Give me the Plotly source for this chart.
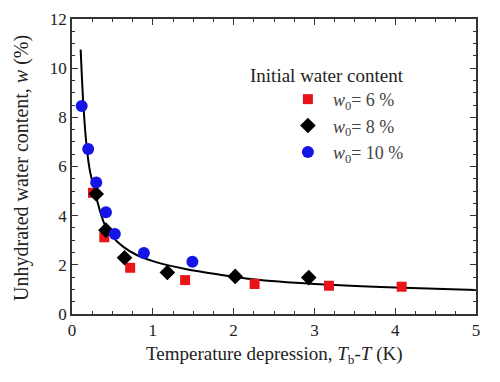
import plotly.graph_objects as go

# data
x6 = [0.26, 0.40, 0.72, 1.40, 2.26, 3.18, 4.08]
y6 = [4.93, 3.12, 1.88, 1.38, 1.22, 1.15, 1.11]
x8 = [0.30, 0.42, 0.65, 1.18, 2.02, 2.93]
y8 = [4.88, 3.41, 2.29, 1.69, 1.53, 1.48]
x10 = [0.12, 0.20, 0.30, 0.42, 0.53, 0.89, 1.49]
y10 = [8.46, 6.71, 5.35, 4.14, 3.25, 2.48, 2.13]
xfit = [0.107, 0.14, 0.18, 0.22, 0.285, 0.35, 0.41, 0.5, 0.64, 0.8, 1.0, 1.42, 1.83, 2.24, 3.0, 4.0, 5.0]
yfit = [10.76, 8.55, 6.85, 5.85, 4.95, 4.15, 3.6, 3.15, 2.72, 2.4, 2.15, 1.82, 1.6, 1.41, 1.22, 1.08, 0.98]
xticks = [0, 1, 2, 3, 4, 5]
yticks = [0, 2, 4, 6, 8, 10, 12]

FONT = "Liberation Serif"

fig = go.Figure()
fig.add_trace(go.Scatter(x=xfit, y=yfit, mode="lines", line=dict(color="black", width=2, shape="spline", smoothing=0.8),
                         showlegend=False, hoverinfo="skip"))
fig.add_trace(go.Scatter(x=x6, y=y6, mode="markers", name="<i>w</i><sub>0</sub>= 6 %",
                         marker=dict(symbol="square", size=10, color="#e8141a", line=dict(width=0))))
fig.add_trace(go.Scatter(x=x8, y=y8, mode="markers", name="<i>w</i><sub>0</sub>= 8 %",
                         marker=dict(symbol="diamond", size=12, color="black", line=dict(width=0))))
fig.add_trace(go.Scatter(x=x10, y=y10, mode="markers", name="<i>w</i><sub>0</sub>= 10 %",
                         marker=dict(symbol="circle", size=12, color="#1414e6", line=dict(width=0))))

axis_common = dict(showline=True, linecolor="#333", linewidth=1.5, mirror="ticks", ticks="inside",
                   ticklen=6, tickwidth=1.2, tickcolor="#333", showgrid=False, zeroline=False,
                   automargin=False, tickfont=dict(family=FONT, size=17, color="#222"))
fig.update_xaxes(range=[0, 5], tickvals=xticks, minor=dict(dtick=0.25, ticks="inside", ticklen=3, tickcolor="#333"),
                 **axis_common)
fig.update_yaxes(range=[0, 12], tickvals=yticks, minor=dict(dtick=0.5, ticks="inside", ticklen=3, tickcolor="#333"),
                 **axis_common)

fig.add_annotation(text="Temperature depression, <i>T</i><sub>b</sub>-<i>T</i> (K)", x=0.5, y=-0.139,
                   xref="paper", yref="paper", xanchor="center", yanchor="middle", showarrow=False,
                   font=dict(family=FONT, size=19, color="#222"))
fig.add_annotation(text="Unhydrated water content, <i>w</i> (%)", x=-0.124, y=0.495, textangle=-90,
                   xref="paper", yref="paper", xanchor="center", yanchor="middle", showarrow=False,
                   font=dict(family=FONT, size=20, color="#222"))
fig.add_annotation(text="Initial water content", x=0.436, y=0.81, xref="paper", yref="paper",
                   xanchor="left", yanchor="middle", showarrow=False,
                   font=dict(family=FONT, size=19, color="#222"))

fig.update_layout(
    width=500, height=382,
    margin=dict(l=64, r=32, t=11, b=76),
    paper_bgcolor="white", plot_bgcolor="white",
    legend=dict(x=0.522, y=0.79, xanchor="left", yanchor="top", bgcolor="rgba(0,0,0,0)",
                font=dict(family=FONT, size=18, color="#444"), itemwidth=40, tracegroupgap=0),
)

fig.write_html("out.html")
